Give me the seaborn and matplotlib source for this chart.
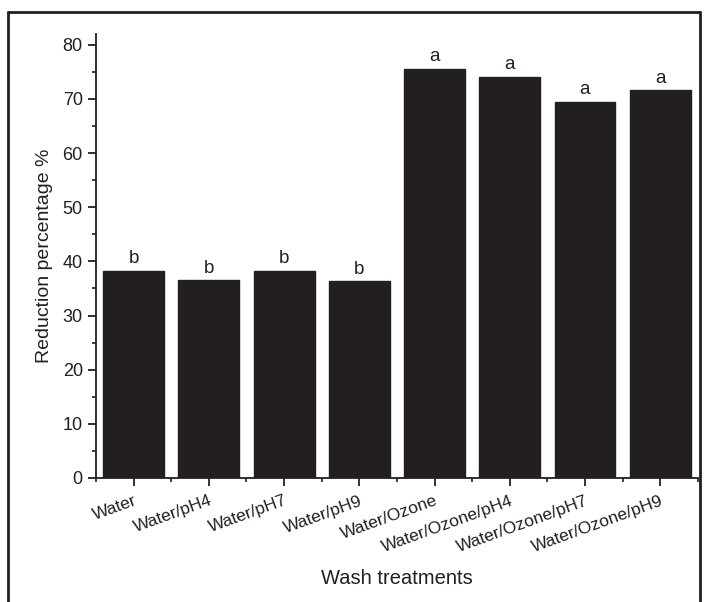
import matplotlib
matplotlib.use("Agg")
import matplotlib.pyplot as plt
from matplotlib.ticker import MultipleLocator, FixedLocator
import seaborn as sns
import pandas as pd

# data
treatments = ["Water", "Water/pH4", "Water/pH7", "Water/pH9",
              "Water/Ozone", "Water/Ozone/pH4", "Water/Ozone/pH7", "Water/Ozone/pH9"]
reduction = [38.3, 36.5, 38.2, 36.3, 75.6, 74.1, 69.5, 71.6]
letters = ["b", "b", "b", "b", "a", "a", "a", "a"]

df = pd.DataFrame({"treatment": treatments, "reduction": reduction})

sns.set_style("ticks")
plt.rcParams["font.family"] = ["Liberation Sans", "DejaVu Sans"]

fig = plt.figure(figsize=(7.08, 6.02), dpi=100)
ax = fig.add_axes([0.1356, 0.206, 0.850, 0.7375])

sns.barplot(data=df, x="treatment", y="reduction", color="#231f20",
            width=0.81, saturation=1, edgecolor="#231f20", ax=ax)

for i, (v, t) in enumerate(zip(reduction, letters)):
    ax.text(i, v + 0.7, t, ha="center", va="bottom", fontsize=13.5, color="#231f20")

ax.set_xlim(-0.5, 7.5)
ax.set_ylim(0, 82)
ax.yaxis.set_major_locator(FixedLocator(range(0, 81, 10)))
ax.yaxis.set_minor_locator(MultipleLocator(5))
ax.xaxis.set_minor_locator(FixedLocator([i - 0.5 for i in range(9)]))

ax.tick_params(axis="both", which="major", direction="out", length=6, width=1.3,
               color="#231f20", labelcolor="#231f20")
ax.tick_params(axis="y", which="major", labelsize=13)
ax.tick_params(axis="x", which="major", labelsize=12.5, pad=5)
ax.tick_params(axis="both", which="minor", direction="out", length=3, width=1.2,
               color="#231f20")
plt.setp(ax.get_xticklabels(), rotation=20, ha="right", rotation_mode="anchor")

sns.despine(ax=ax)
for s in ["left", "bottom"]:
    ax.spines[s].set_linewidth(1.3)
    ax.spines[s].set_color("#231f20")

ax.set_xlabel("Wash treatments", fontsize=14.5, color="#231f20", labelpad=10)
ax.set_ylabel("Reduction percentage %", fontsize=14, color="#231f20", labelpad=7)

# outer frame (top, left, right)
frame_kw = dict(color="#231f20", lw=2, transform=fig.transFigure, clip_on=False)
fig.add_artist(plt.Line2D([0.012, 0.988], [0.98, 0.98], **frame_kw))
fig.add_artist(plt.Line2D([0.012, 0.012], [0.0, 0.98], **frame_kw))
fig.add_artist(plt.Line2D([0.988, 0.988], [0.0, 0.98], **frame_kw))

fig.savefig("out.png", dpi=100)
